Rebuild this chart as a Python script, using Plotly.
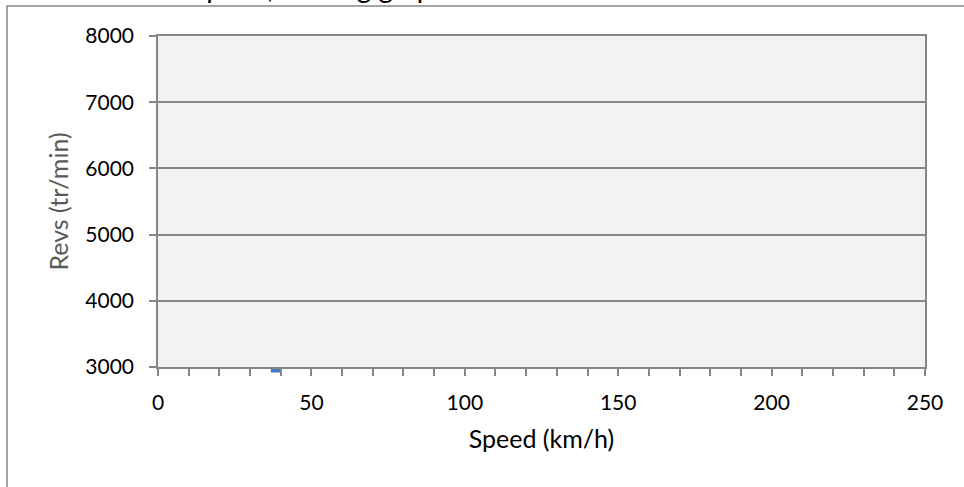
import plotly.graph_objects as go

# Data
speed_kmh = [37.6, 39.0]
revs_trmin = [3000, 3000]

x_ticks = [0, 50, 100, 150, 200, 250]
y_ticks = [3000, 4000, 5000, 6000, 7000, 8000]

W, H = 964, 487
L, R, T, B = 158, 39, 36, 120
pw, ph = W - L - R, H - T - B

def px_x(p):
    return (p - L) / pw

def px_y(p):
    return (H - B - p) / ph

FONT = "Lato"
GRAY = "#868686"

fig = go.Figure()
fig.add_trace(go.Scatter(
    x=speed_kmh, y=revs_trmin, mode="markers",
    marker=dict(color="#3E7BC4", size=5, symbol="square", angle=0, standoff=3,
                line=dict(width=0)),
    cliponaxis=False, showlegend=False, hoverinfo="skip"))

fig.update_layout(
    width=W, height=H,
    margin=dict(l=L, r=R, t=T, b=B),
    paper_bgcolor="white", plot_bgcolor="#F2F2F2",
    font=dict(family=FONT, size=21, color="#000000"),
    xaxis=dict(range=[0, 250], tickvals=x_ticks, ticks="outside", ticklen=7,
               tickcolor=GRAY, tickwidth=1.5, showline=True, linecolor=GRAY,
               linewidth=1.5, mirror=True, showgrid=False, zeroline=False,
               minor=dict(dtick=10, ticks="outside", ticklen=7, tickcolor=GRAY,
                          tickwidth=1.5, showgrid=False),
               ticklabelstandoff=9,
               title=dict(text="Speed (km/h)", standoff=18,
                          font=dict(family=FONT, size=25, color="#000000"))),
    yaxis=dict(range=[3000, 8000], tickvals=y_ticks, ticks="outside", ticklen=7,
               tickcolor=GRAY, tickwidth=1.5, showline=True, linecolor=GRAY,
               linewidth=1.5, mirror=True, showgrid=True, gridcolor=GRAY,
               gridwidth=1.5, zeroline=False, ticklabelstandoff=11,
               title=dict(text="Revs (tr/min)", standoff=10,
                          font=dict(family=FONT, size=25, color="#595959"))),
    shapes=[dict(type="rect", xref="paper", yref="paper",
                 x0=px_x(7), x1=px_x(1100), y0=px_y(800), y1=px_y(6),
                 line=dict(color=GRAY, width=1.5), fillcolor="rgba(0,0,0,0)",
                 layer="below")],
    annotations=[dict(text="Revs vs Speed, shifting graph", xref="paper", yref="paper",
                      x=px_x(450), y=px_y(5.5), xanchor="right", yanchor="bottom",
                      showarrow=False, font=dict(family=FONT, size=28, color="#000000"))],
)

fig.write_html("out.html", config={"displayModeBar": False},
               post_script="document.body.style.margin='0px';")
